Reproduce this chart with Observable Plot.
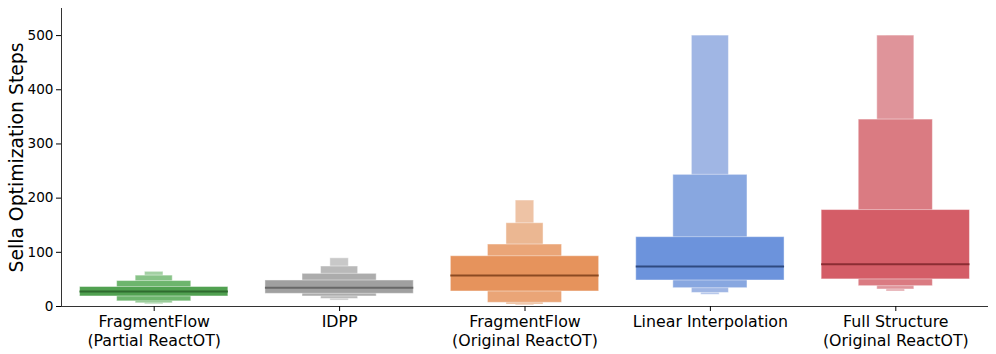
<!DOCTYPE html>
<html>
<head>
<meta charset="utf-8">
<script src="https://cdn.jsdelivr.net/npm/d3@7"></script>
<script src="https://cdn.jsdelivr.net/npm/@observablehq/plot@0.6"></script>
<style>
  html, body { margin: 0; padding: 0; background: #fff; }
  #chart { width: 996px; height: 354px; }
</style>
</head>
<body>
<div id="chart"></div>
<script>
// Categories (x tick labels)
const categories = [
  "FragmentFlow\n(Partial ReactOT)",
  "IDPP",
  "FragmentFlow\n(Original ReactOT)",
  "Linear Interpolation",
  "Full Structure\n(Original ReactOT)"
];

// Letter-value boxes per category: [low, high] for level 1 (innermost/widest) .. level 4
const levelsFragPartial = [[18.5, 36], [9.5, 47], [6, 57], [4, 64]];
const levelsIDPP        = [[23.4, 48], [18.5, 60.3], [14, 73.8], [11, 89]];
const levelsFragOrig    = [[27.7, 92.8], [6.8, 114.4], [3.7, 153.7], [1.8, 195.6]];
const levelsLinear      = [[48, 128], [33.8, 243], [25, 500], [21.6, 500]];
const levelsFull        = [[50, 178], [37.5, 345], [31.4, 500], [27.7, 500]];
const allLevels = [levelsFragPartial, levelsIDPP, levelsFragOrig, levelsLinear, levelsFull];

// Medians
const medians = [27.5, 34.5, 57, 73.8, 78];

// Y ticks and axis label
const yTicks = [0, 100, 200, 300, 400, 500];
const yLabel = "Sella Optimization Steps";

// Palette (level 1 .. level 4) and median line colours per category
const palette = [
  ["#51a151", "#6db56d", "#88c388", "#a3d0a3"],
  ["#a0a0a0", "#acacac", "#b9b9b9", "#c8c8c8"],
  ["#e6935c", "#eaa577", "#ebb792", "#eec3a5"],
  ["#6c93dc", "#88a7e0", "#a0b6e4", "#b0c3ea"],
  ["#d45d67", "#da7b82", "#df949a", "#e3a6ab"]
];
const medianColors = ["#2f6b2f", "#686868", "#8b4a22", "#2f4a80", "#8b2d33"];

// Build table (outer levels first so inner ones draw on top)
const boxes = [];
allLevels.forEach((lv, i) => {
  for (let k = lv.length - 1; k >= 0; k--) {
    boxes.push({cat: i, level: k, lo: lv[k][0], hi: lv[k][1]});
  }
});
const medianRows = medians.map((m, i) => ({cat: i, m}));

const halfWidth = 0.4;
const plot = Plot.plot({
  width: 996,
  height: 354,
  marginLeft: 61,
  marginRight: 8,
  marginTop: 8,
  marginBottom: 48,
  style: {fontFamily: "DejaVu Sans, sans-serif", background: "#fff", color: "#000"},
  x: {domain: [-0.5, 4.5], axis: null},
  y: {domain: [0, 550], axis: null},
  marks: [
    Plot.rect(boxes, {
      x1: d => d.cat - halfWidth / Math.pow(2, d.level),
      x2: d => d.cat + halfWidth / Math.pow(2, d.level),
      y1: "lo", y2: "hi",
      fill: d => palette[d.cat][d.level],
      stroke: "#ffffff", strokeOpacity: 0.45, strokeWidth: 1
    }),
    Plot.ruleY(medianRows, {
      x1: d => d.cat - halfWidth, x2: d => d.cat + halfWidth, y: "m",
      stroke: (d) => medianColors[d.cat], strokeWidth: 2
    }),
    Plot.ruleX([-0.5], {y1: 0, y2: 550, stroke: "#333", strokeWidth: 1}),
    Plot.ruleY([0], {stroke: "#333", strokeWidth: 1}),
    Plot.axisY({ticks: yTicks, tickSize: 5, fontSize: 13.6, label: null, tickPadding: 3}),
    Plot.text([yLabel], {frameAnchor: "left", dx: -45, rotate: -90, textAnchor: "middle",
      lineAnchor: "middle", fontSize: 18.8, fill: "#000"}),
    Plot.axisX({ticks: [0, 1, 2, 3, 4], tickFormat: i => categories[i], tickSize: 5,
      fontSize: 15.8, lineHeight: 1.15, tickPadding: 3, label: null})
  ]
});
document.getElementById("chart").appendChild(plot);
</script>
</body>
</html>
